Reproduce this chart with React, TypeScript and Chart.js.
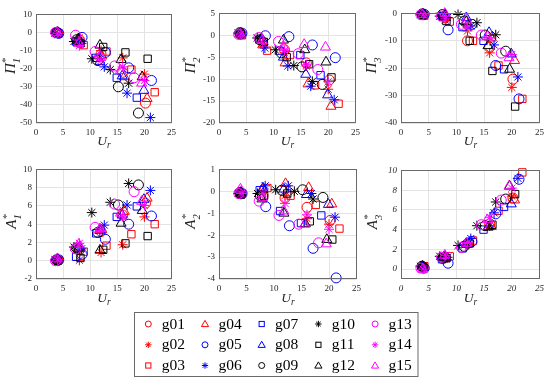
import React, { useEffect, useRef } from "react";
import { Chart, registerables } from "chart.js";
Chart.register(...registerables);

const FONT = '"Liberation Serif", "Times New Roman", serif';

// ---------- data ----------
const seriesNames = ["g01", "g02", "g03", "g04", "g05", "g06", "g07", "g08", "g09", "g10", "g11", "g12", "g13", "g14", "g15"];
const seriesColors = ["#ff0000", "#ff0000", "#ff0000", "#ff0000", "#0000ff", "#0000ff", "#0000ff", "#0000ff", "#000000", "#000000", "#000000", "#000000", "#ff00ff", "#ff00ff", "#ff00ff"];
const seriesMarkers = ["circle", "star", "rect", "triangle", "circle", "star", "rect", "triangle", "circle", "star", "rect", "triangle", "circle", "star", "triangle"];

// reduced velocity U_r for each series
const ur = [
  [4, 8, 12, 16, 20.2],
  [4, 8, 12, 16, 20],
  [4.2, 8.8, 13, 17.6, 21.9],
  [4, 8, 12.1, 16.3, 20.5],
  [4.2, 8.5, 12.8, 17.1, 21.3],
  [4, 8.4, 12.6, 16.8, 21.1],
  [3.8, 7.4, 11.1, 14.9, 18.6],
  [4, 8, 11.8, 15.9, 19.9],
  [3.8, 7.5, 11.4, 15.2, 18.9],
  [3.5, 7, 10.3, 13.7, 17.1],
  [4, 8.2, 12.4, 16.5, 20.6],
  [3.9, 7.8, 11.8, 15.7, 19.6],
  [3.6, 7.3, 10.9, 14.5, 18.1],
  [4, 8, 12, 16, 20],
  [3.9, 7.9, 11.8, 15.6, 19.5],
];

const pi1 = [
  [0, -4, -12, -22, -39],
  [-0.5, -3, -10, -14, -23],
  [-0.5, -7, -10.5, -20.5, -33],
  [0, -5, -13, -24.5, -36.5],
  [-0.5, -2.7, -11, -19.5, -26.5],
  [-0.5, -6, -19, -33.5, -47],
  [0, -5, -14, -25, -36],
  [0, -4, -16, -24, -32],
  [0, -4, -15.5, -30, -44.5],
  [-0.5, -5, -14.5, -20.5, -28],
  [-0.5, -6, -8, -11, -14.5],
  [0, -3.5, -7, -15, -24.5],
  [0, -1.5, -10.5, -18.5, -25],
  [-0.5, -7.3, -15.5, -19, -26.5],
  [0, -6, -13, -21, -28],
];

const pi2 = [
  [0.3, -1.5, -3.3, -6.3, -10.2],
  [0.2, -2, -4, -7, -12.3],
  [0, -3.5, -4.5, -11.4, -15.6],
  [0.3, -2.2, -6.3, -11.1, -16.2],
  [0.5, -0.1, -0.3, -2.2, -5.1],
  [0.2, -2.9, -7, -11.6, -14.7],
  [0.3, -1, -3.5, -4.5, -9.1],
  [0.4, -1.2, -5, -8.9, -13.6],
  [0.6, -1, -4, -7.2, -11.2],
  [0.5, -0.6, -3.3, -6.9, -10.5],
  [0.3, -1.5, -5, -6.6, -9.6],
  [0.4, -0.8, -1.1, -3.3, -6.1],
  [0.2, -0.5, -1.4, -4.2, -7.8],
  [0.3, -1.8, -3.5, -6.7, -10.6],
  [0.3, -1.2, -2.5, -2.1, -2.7],
];

const pi3 = [
  [-0.5, -1.5, -10, -12.4, -24],
  [-0.5, -2.5, -6.4, -14.4, -27],
  [-0.8, -3, -10, -19, -31.2],
  [-0.5, -1.5, -4, -9, -17.2],
  [-0.3, -6, -4, -19, -31.2],
  [-0.5, -1.5, -4.6, -11.5, -23.2],
  [-0.4, -1, -5, -10, -20.4],
  [-0.3, -0.5, -1.6, -7, -14.8],
  [-0.2, -0.4, -2.8, -7.9, -13.8],
  [-0.5, -1, -0.4, -3.4, -7.8],
  [-0.6, -2.8, -10, -21, -34],
  [-0.3, -1, -3, -11.8, -20.4],
  [-0.5, -1, -4, -7.9, -14.5],
  [-0.6, -2, -5, -9, -15],
  [-0.4, 0, -2.5, -8.5, -16.2],
];

const a1 = [
  [0, 1.2, 3.2, 5, 6.3],
  [0, 0.05, 0.9, 1.75, 4.8],
  [0.1, 1.0, 1.65, 2.9, 4.0],
  [0.1, 1.4, 3.4, 5.4, 6.85],
  [0.1, 0.7, 2.35, 4.0, 4.9],
  [0.1, 1.3, 3.9, 6.1, 7.7],
  [0.1, 0.43, 3.0, 4.8, 5.95],
  [0.2, 1.5, 3.3, 5.0, 6.7],
  [0.1, 1.4, 3.1, 6.1, 8.3],
  [0.1, 1.5, 5.27, 6.4, 8.46],
  [0, 0.3, 1.2, 1.9, 2.7],
  [0.1, 1.3, 1.15, 4.1, 5.5],
  [0, 1.3, 3.65, 6.2, 7.56],
  [0.1, 1.9, 3.3, 4.8, 6.05],
  [0.2, 1.8, 3.5, 5.2, 6.5],
];

const a2 = [
  [-0.1, -0.2, -0.3, -0.73, -1.33],
  [-0.15, 0, -0.2, -1.25, -1.5],
  [-0.1, 0.15, -0.2, -0.62, -1.7],
  [-0.05, 0.1, 0.35, 0.17, -0.58],
  [-0.1, -0.7, -1.57, -2.6, -3.95],
  [-0.1, 0.25, 0.25, -0.1, -1.18],
  [-0.1, 0.05, -0.9, -1.45, -1.1],
  [-0.05, 0.15, 0.1, -0.15, -0.6],
  [-0.05, -0.2, 0.05, 0.07, -0.28],
  [-0.1, -0.1, 0.07, 0, -0.35],
  [-0.15, -0.2, -0.1, -1.37, -2.2],
  [-0.1, -0.35, -1.0, -1.48, -2.2],
  [-0.1, -0.45, -1.1, -1.5, -2.35],
  [-0.1, -0.1, -0.55, -1.07, -1.73],
  [0.1, -0.3, -0.9, -1.5, -2.4],
];

const a3 = [
  [0.2, 1.2, 2.6, 4.6, 7.2],
  [0.3, 1.3, 2.5, 4.4, 7.4],
  [0.3, 1.3, 2.9, 5.9, 9.8],
  [0.2, 1.2, 2.6, 4.3, 7.0],
  [0.1, 0.6, 2.8, 5.6, 9.1],
  [0.2, 1.2, 3.1, 5.7, 9.2],
  [0.2, 1.0, 2.1, 4.0, 6.3],
  [0.2, 1.1, 2.6, 4.3, 6.6],
  [0.3, 1.1, 2.3, 4.4, 7.1],
  [0.3, 1.3, 2.4, 4.4, 6.8],
  [0.2, 1.1, 2.6, 4.5, 7.6],
  [0.3, 1.2, 2.5, 4.25, 8.4],
  [0.1, 1.2, 2.2, 4.5, 7.0],
  [0.0, 1.4, 2.7, 5.25, 8.2],
  [0.0, 1.4, 2.6, 5.0, 8.4],
];

// tick labels
const xTicks = [0, 5, 10, 15, 20, 25];
const pi1Ticks = [-50, -40, -30, -20, -10, 0, 10];
const pi2Ticks = [-20, -15, -10, -5, 0, 5];
const pi3Ticks = [-40, -30, -20, -10, 0];
const a1Ticks = [-2, 0, 2, 4, 6, 8, 10];
const a2Ticks = [-4, -3, -2, -1, 0, 1];
const a3Ticks = [0, 2, 4, 6, 8, 10];

// ---------- layout ----------
const Y_W = 40;
const X_H = 20;
const PAD_T = 8;
const PAD_R = 8;

type PanelDef = {
  values: number[][];
  ticks: number[];
  min: number;
  max: number;
  L: number; T: number; R: number; B: number;
  sym: string; sub: string;
  labelX: number;
  italicTicks?: boolean;
};

const panels: PanelDef[] = [
  { values: pi1, ticks: pi1Ticks, min: -50, max: 10, L: 36, T: 13, R: 172, B: 123, sym: "\u03A0", sub: "1", labelX: 15 },
  { values: pi2, ticks: pi2Ticks, min: -20, max: 5, L: 219, T: 12, R: 356, B: 123, sym: "\u03A0", sub: "2", labelX: 195 },
  { values: pi3, ticks: pi3Ticks, min: -40, max: 0, L: 401, T: 12, R: 540, B: 123, sym: "\u03A0", sub: "3", labelX: 376 },
  { values: a1, ticks: a1Ticks, min: -2, max: 10, L: 36, T: 168, R: 172, B: 279, sym: "A", sub: "1", labelX: 16 },
  { values: a2, ticks: a2Ticks, min: -4, max: 1, L: 219, T: 168, R: 357, B: 279, sym: "A", sub: "2", labelX: 195 },
  { values: a3, ticks: a3Ticks, min: -1, max: 10, L: 401, T: 169, R: 540, B: 279, sym: "A", sub: "3", labelX: 377, italicTicks: true },
];

const markerRadius: Record<string, number> = { circle: 5, star: 5, rect: 5.2, triangle: 5.8 };

const boxPlugin = {
  id: "axesBox",
  afterDatasetsDraw(chart: any) {
    const { ctx, chartArea } = chart;
    const { left, top, right, bottom } = chartArea;
    ctx.save();
    ctx.strokeStyle = "#6a6a6a";
    ctx.lineWidth = 1;
    ctx.strokeRect(Math.round(left) + 0.5, Math.round(top) + 0.5, Math.round(right - left) - 1, Math.round(bottom - top) - 1);
    ctx.restore();
  },
};

function Panel({ p }: { p: PanelDef }) {
  const ref = useRef<HTMLCanvasElement>(null);
  const width = p.R - p.L + Y_W + PAD_R;
  const height = p.B - p.T + PAD_T + X_H;
  useEffect(() => {
    const canvas = ref.current!;
    const datasets = seriesNames.map((name, i) => ({
      label: name,
      data: ur[i].map((x, k) => ({ x, y: p.values[i][k] })),
      pointStyle: seriesMarkers[i] as any,
      pointRadius: markerRadius[seriesMarkers[i]],
      pointBorderColor: seriesColors[i],
      pointBackgroundColor: "rgba(0,0,0,0)",
      pointBorderWidth: 1,
      showLine: false,
      order: 15 - i,
      clip: false as any,
    }));
    const tickFont = { family: FONT, size: 9, style: (p.italicTicks ? "italic" : "normal") as any };
    const chart = new Chart(canvas, {
      type: "scatter",
      data: { datasets },
      options: {
        animation: false,
        responsive: false,
        events: [],
        layout: { padding: { left: 0, top: PAD_T, right: PAD_R, bottom: 0 } },
        plugins: { legend: { display: false }, tooltip: { enabled: false } },
        scales: {
          x: {
            type: "linear",
            min: 0,
            max: 25,
            afterBuildTicks: (s: any) => { s.ticks = xTicks.map((v) => ({ value: v })); },
            afterFit: (s: any) => { s.height = X_H; },
            grid: { color: "#e3e3e3", drawTicks: false, lineWidth: 1 },
            border: { display: false },
            ticks: { padding: 4, color: "#262626", font: tickFont, maxRotation: 0, callback: (v: any) => String(v) },
          },
          y: {
            type: "linear",
            min: p.min,
            max: p.max,
            afterBuildTicks: (s: any) => { s.ticks = p.ticks.map((v) => ({ value: v })); },
            afterFit: (s: any) => { s.width = Y_W; },
            grid: { color: "#e3e3e3", drawTicks: false, lineWidth: 1 },
            border: { display: false },
            ticks: { padding: 4, color: "#262626", font: tickFont, callback: (v: any) => String(v) },
          },
        },
      },
      plugins: [boxPlugin],
    });
    return () => chart.destroy();
  }, []);
  return (
    <canvas
      ref={ref}
      width={width}
      height={height}
      style={{ position: "absolute", left: p.L - Y_W, top: p.T - PAD_T, width, height }}
    />
  );
}

function LegendMarker({ style, color, cx, cy }: { style: string; color: string; cx: number; cy: number }) {
  const r = 3;
  if (style === "circle") return <circle cx={cx} cy={cy} r={r} fill="none" stroke={color} strokeWidth={1} />;
  if (style === "rect") return <rect x={cx - 2.6} y={cy - 2.6} width={5.2} height={5.2} fill="none" stroke={color} strokeWidth={1} />;
  if (style === "triangle")
    return (
      <polygon
        points={`${cx},${cy - 3.6} ${cx - 3.6},${cy + 2.6} ${cx + 3.6},${cy + 2.6}`}
        fill="none"
        stroke={color}
        strokeWidth={1}
      />
    );
  const d = 3.2;
  const e = d * 0.707;
  return (
    <g stroke={color} strokeWidth={1}>
      <line x1={cx - d} y1={cy} x2={cx + d} y2={cy} />
      <line x1={cx} y1={cy - d} x2={cx} y2={cy + d} />
      <line x1={cx - e} y1={cy - e} x2={cx + e} y2={cy + e} />
      <line x1={cx - e} y1={cy + e} x2={cx + e} y2={cy - e} />
    </g>
  );
}

const legendColX = [148.3, 205, 261.7, 318.4, 375.1];
const legendRowY = [324, 344.8, 365.5];

export default function App() {
  return (
    <div style={{ position: "absolute", left: 0, top: 0, width: 550, height: 385, background: "#fff", overflow: "hidden" }}>
      {panels.map((p, i) => (
        <Panel key={i} p={p} />
      ))}
      <svg width={550} height={385} style={{ position: "absolute", left: 0, top: 0, pointerEvents: "none" }}>
        {panels.map((p, i) => {
          const cy = (p.T + p.B) / 2 - 2;
          return (
            <g key={"lab" + i} fontFamily={FONT} fill="#262626">
              <text transform={`translate(${p.labelX},${cy}) rotate(-90)`} textAnchor="middle" fontStyle="italic" fontSize={15}>
                <tspan>{p.sym}</tspan>
                <tspan fontSize={10.5} dy={-6.5}>*</tspan>
                <tspan fontSize={10.5} dx={-5.2} dy={11}>{p.sub}</tspan>
              </text>
              <text x={(p.L + p.R) / 2} y={p.T < 100 ? 145 : 302} textAnchor="middle" fontStyle="italic" fontSize={13.5}>
                <tspan>U</tspan>
                <tspan fontSize={9.5} dy={3}>r</tspan>
              </text>
            </g>
          );
        })}
        <rect x={134.5} y={312.5} width={283.5} height={64} fill="#fff" stroke="#6a6a6a" strokeWidth={1} />
        {seriesNames.map((name, i) => {
          const col = Math.floor(i / 3);
          const row = i % 3;
          const cx = legendColX[col];
          const cy = legendRowY[row];
          return (
            <g key={name}>
              <LegendMarker style={seriesMarkers[i]} color={seriesColors[i]} cx={cx} cy={cy} />
              <text x={cx + 13.4} y={cy + 4.6} fontFamily={FONT} fontSize={15.5} fill="#000">
                {name}
              </text>
            </g>
          );
        })}
      </svg>
    </div>
  );
}
